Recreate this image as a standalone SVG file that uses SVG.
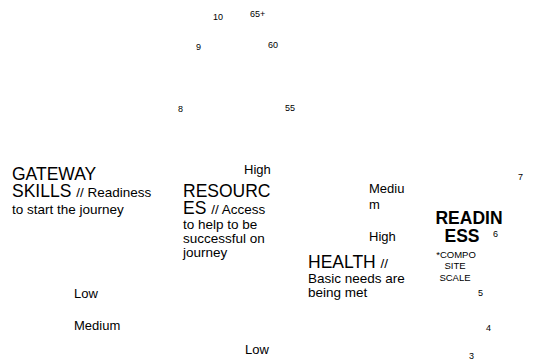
<svg xmlns="http://www.w3.org/2000/svg" width="537" height="362" viewBox="0 0 537 362">
<style>
text{font-family:"Liberation Sans",Arial,sans-serif;fill:#000}
.tick{font-size:9px}
.lvl{font-size:13px}
.big{font-size:17.5px}
.sub{font-size:13.5px}
.head{font-size:17.5px;font-weight:bold}
.cap{font-size:9.5px}
</style>
<rect width="537" height="362" fill="#fff"/>
<g id="age-scale">
<text class="tick" x="213" y="20">10</text>
<text class="tick" x="250" y="17">65+</text>
<text class="tick" x="196" y="50">9</text>
<text class="tick" x="268" y="48">60</text>
<text class="tick" x="178" y="112">8</text>
<text class="tick" x="285" y="111">55</text>
</g>
<g id="gateway">
<text x="12" y="180"><tspan class="big">GATEWAY</tspan><tspan x="12" dy="17" class="big">SKILLS </tspan><tspan class="sub">// Readiness</tspan><tspan x="12" dy="17" class="sub">to start the journey</tspan></text>
</g>
<g id="resources">
<text x="183" y="197"><tspan class="big">RESOURC</tspan><tspan x="183" dy="17" class="big">ES </tspan><tspan class="sub">// Access</tspan><tspan x="183" dy="15" class="sub">to help to be</tspan><tspan x="183" dy="14" class="sub">successful on</tspan><tspan x="183" dy="14" class="sub">journey</tspan></text>
</g>
<g id="health">
<text x="308" y="268"><tspan class="big">HEALTH </tspan><tspan class="sub">//</tspan><tspan x="308" dy="15" class="sub">Basic needs are</tspan><tspan x="308" dy="14" class="sub">being met</tspan></text>
</g>
<g id="readiness">
<text text-anchor="middle"><tspan class="head" x="469" y="224">READIN</tspan><tspan class="head" x="462" y="242">ESS</tspan><tspan class="cap" x="456" y="258">*COMPO</tspan><tspan class="cap" x="455" y="269">SITE</tspan><tspan class="cap" x="455" y="281">SCALE</tspan></text>
</g>
<g id="levels">
<text class="lvl" x="244" y="174">High</text>
<text class="lvl" x="369" y="193">Mediu<tspan x="369" dy="16">m</tspan></text>
<text class="lvl" x="369" y="241">High</text>
<text class="lvl" x="74" y="298">Low</text>
<text class="lvl" x="74" y="330">Medium</text>
<text class="lvl" x="245" y="354">Low</text>
</g>
<g id="score-scale">
<text class="tick" x="518" y="180">7</text>
<text class="tick" x="493" y="237">6</text>
<text class="tick" x="478" y="296">5</text>
<text class="tick" x="486" y="331">4</text>
<text class="tick" x="469" y="359">3</text>
</g>
<g id="connectors"/>
</svg>
